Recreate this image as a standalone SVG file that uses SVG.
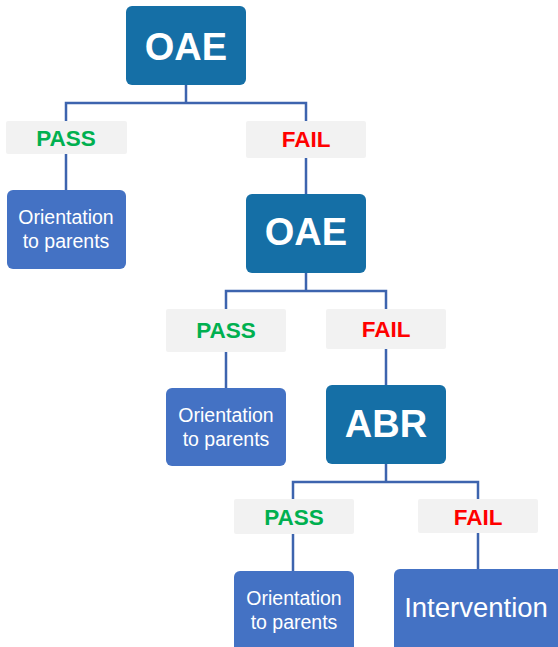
<svg xmlns="http://www.w3.org/2000/svg" width="558" height="647" viewBox="0 0 558 647">
<style>
.test{fill:#156FA6}
.res{fill:#4472C4}
.lbl{fill:#F2F2F2}
.tt{font-family:"Liberation Sans",Arial,sans-serif;font-weight:bold;font-size:38px;fill:#fff;text-anchor:middle}
.pass{font-family:"Liberation Sans",Arial,sans-serif;font-weight:bold;font-size:22.5px;fill:#00B050;text-anchor:middle}
.fail{font-family:"Liberation Sans",Arial,sans-serif;font-weight:bold;font-size:22.5px;fill:#FF0000;text-anchor:middle}
.rt{font-family:"Liberation Sans",Arial,sans-serif;font-size:19.5px;fill:#fff;text-anchor:middle}
.big{font-family:"Liberation Sans",Arial,sans-serif;font-size:27.5px;fill:#fff;text-anchor:middle}
.c{fill:none;stroke:#3D64AE;stroke-width:2.5}
</style>
<g id="connectors">
<path class="c" d="M186 85V103M66 121V103H306V121M66 154V190M306 158V194"/>
<path class="c" d="M306 273V291M226 309V291H386V309M226 352V388M386 349V385"/>
<path class="c" d="M386 464V482M293 499V482H478V499M293 534V571M478 533V569"/>
</g>
<g id="oae1"><rect class="test" x="126" y="6" width="120" height="79" rx="6"/><text class="tt" x="186" y="60">OAE</text></g>
<g id="pass1"><rect class="lbl" x="6" y="121" width="121" height="33" rx="2"/><text class="pass" x="66" y="146">PASS</text></g>
<g id="fail1"><rect class="lbl" x="246" y="121" width="120" height="37" rx="2"/><text class="fail" x="306" y="147">FAIL</text></g>
<g id="orient1"><rect class="res" x="7" y="190" width="119" height="79" rx="6"/><text class="rt" x="66" y="224">Orientation</text><text class="rt" x="66" y="248">to parents</text></g>
<g id="oae2"><rect class="test" x="246" y="194" width="120" height="79" rx="6"/><text class="tt" x="306" y="245">OAE</text></g>
<g id="pass2"><rect class="lbl" x="166" y="309" width="120" height="43" rx="2"/><text class="pass" x="226" y="338">PASS</text></g>
<g id="fail2"><rect class="lbl" x="326" y="309" width="120" height="40" rx="2"/><text class="fail" x="386" y="337">FAIL</text></g>
<g id="orient2"><rect class="res" x="166" y="388" width="120" height="78" rx="6"/><text class="rt" x="226" y="422">Orientation</text><text class="rt" x="226" y="446">to parents</text></g>
<g id="abr"><rect class="test" x="326" y="385" width="120" height="79" rx="6"/><text class="tt" x="386" y="437">ABR</text></g>
<g id="pass3"><rect class="lbl" x="234" y="499" width="120" height="35" rx="2"/><text class="pass" x="294" y="525">PASS</text></g>
<g id="fail3"><rect class="lbl" x="418" y="499" width="120" height="34" rx="2"/><text class="fail" x="478" y="525">FAIL</text></g>
<g id="orient3"><rect class="res" x="234" y="571" width="120" height="82" rx="6"/><text class="rt" x="294" y="605">Orientation</text><text class="rt" x="294" y="629">to parents</text></g>
<g id="intervention"><rect class="res" x="394" y="569" width="170" height="84" rx="6"/><text class="big" x="476" y="617">Intervention</text></g>
</svg>
